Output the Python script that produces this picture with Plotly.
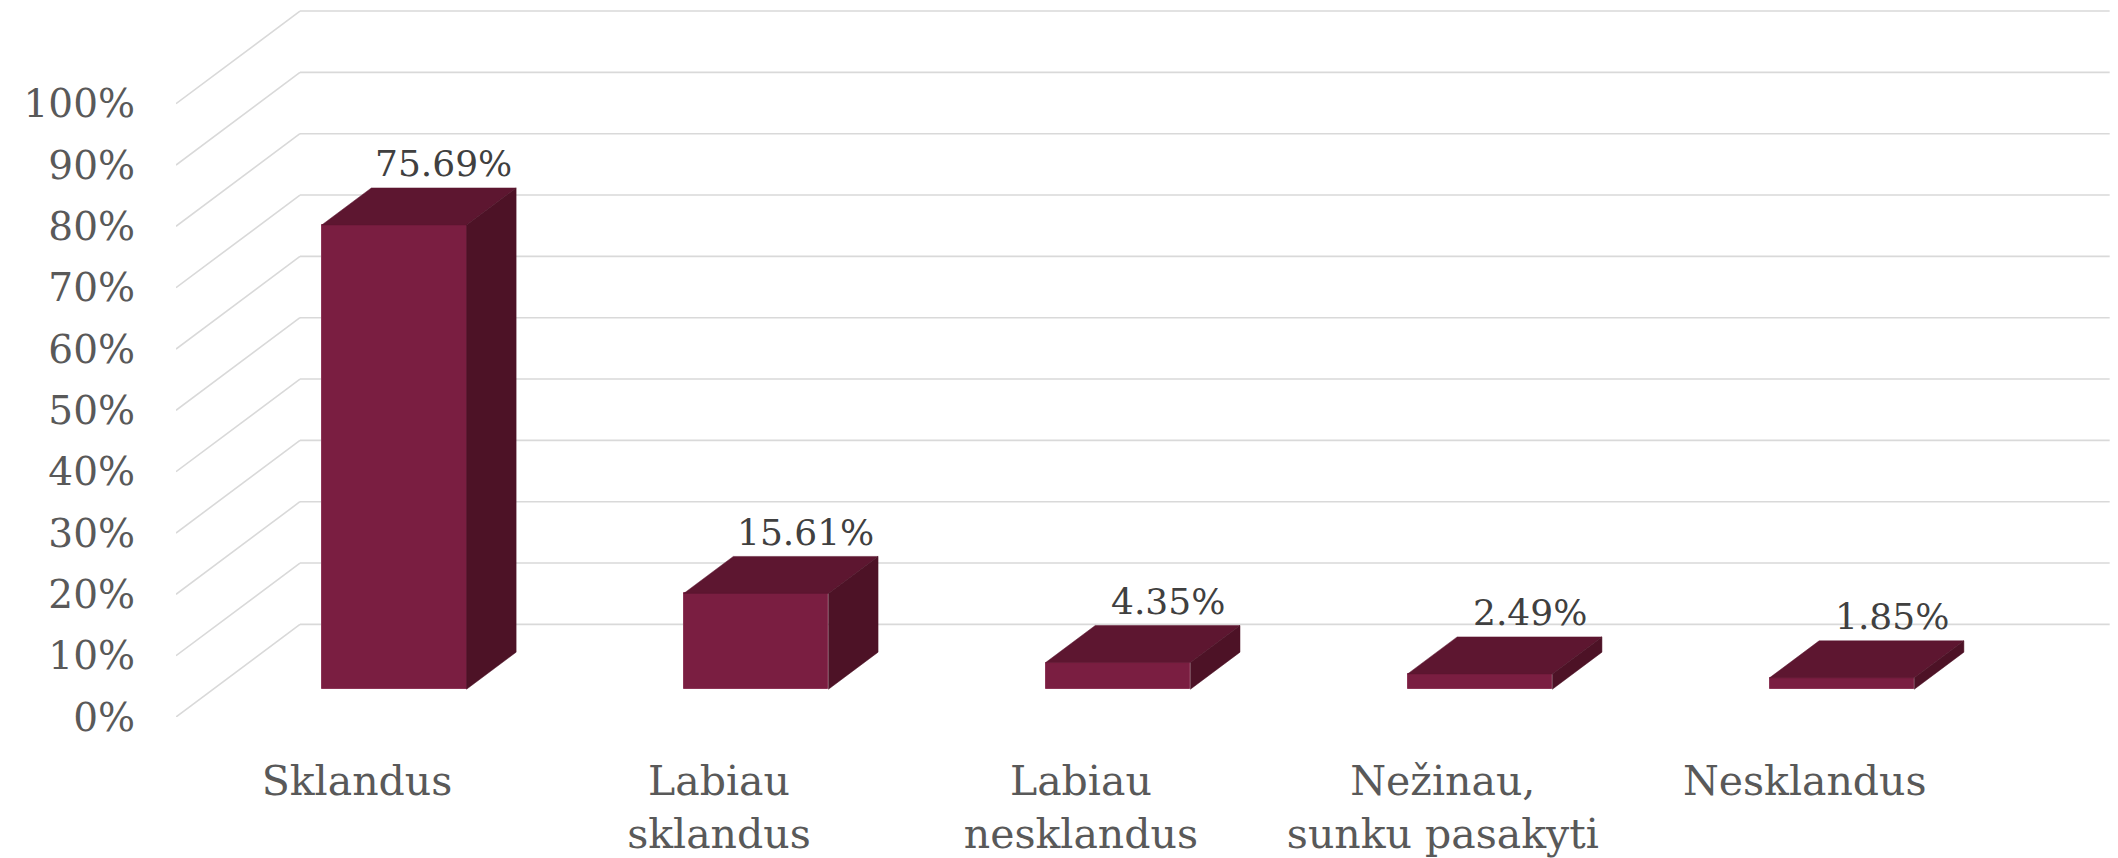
import plotly.graph_objects as go

# ---- data ----
categories = ["Sklandus", "Labiau<br>sklandus", "Labiau<br>nesklandus", "Nežinau,<br>sunku pasakyti", "Nesklandus"]
values = [75.69, 15.61, 4.35, 2.49, 1.85]
value_labels = ["75.69%", "15.61%", "4.35%", "2.49%", "1.85%"]
y_ticks = [0, 10, 20, 30, 40, 50, 60, 70, 80, 90, 100]
y_tick_labels = ["0%", "10%", "20%", "30%", "40%", "50%", "60%", "70%", "80%", "90%", "100%"]

# ---- 3D projection settings (in axis units) ----
DX = 0.3425      # depth shift along x (category units)
DY = 15.1        # depth shift along y (percent units)
BAR_W = 0.4      # bar width (category units)
D0, D1 = 0.3, 0.7  # bar front / back depth fractions

FRONT = "#7A1E41"
TOP = "#5D1630"
SIDE = "#4D1226"
GRID = "#D9D9D9"

n = len(categories)
fig = go.Figure()

# gridlines: diagonal side wall + back wall (drawn below everything)
for v in y_ticks:
    fig.add_shape(type="line", xref="x", yref="y", x0=0, y0=v, x1=DX, y1=v + DY,
                  line=dict(color=GRID, width=1.6), layer="below")
    fig.add_shape(type="line", xref="x", yref="y", x0=DX, y0=v + DY, x1=n + DX, y1=v + DY,
                  line=dict(color=GRID, width=1.6), layer="below")

# front faces of the bars
fig.add_trace(go.Bar(
    x=[i + 0.5 + D0 * DX for i in range(n)],
    y=values,
    base=[D0 * DY] * n,
    width=BAR_W,
    marker=dict(color=FRONT, line=dict(color="#8C3556", width=1)),
    showlegend=False, hoverinfo="skip",
))

# top and side faces
for i, v in enumerate(values):
    xl = i + 0.5 - BAR_W / 2 + D0 * DX
    xr = i + 0.5 + BAR_W / 2 + D0 * DX
    yb = D0 * DY
    yt = D0 * DY + v
    ddx = (D1 - D0) * DX
    ddy = (D1 - D0) * DY
    fig.add_trace(go.Scatter(
        x=[xl, xr, xr + ddx, xl + ddx, xl],
        y=[yt, yt, yt + ddy, yt + ddy, yt],
        mode="lines", fill="toself", fillcolor=TOP, line=dict(color=TOP, width=0.5),
        hoverinfo="skip", showlegend=False))
    fig.add_trace(go.Scatter(
        x=[xr, xr + ddx, xr + ddx, xr, xr],
        y=[yb, yb + ddy, yt + ddy, yt, yb],
        mode="lines", fill="toself", fillcolor=SIDE, line=dict(color=SIDE, width=0.5),
        hoverinfo="skip", showlegend=False))
    # value label above the back-top edge
    fig.add_annotation(
        x=i + 0.5 + D1 * DX, y=v + D1 * DY, text=value_labels[i],
        showarrow=False, xanchor="center", yanchor="middle", yshift=24,
        font=dict(family="DejaVu Serif", size=36, color="#404040"))

fig.update_layout(
    width=2110, height=850,
    margin=dict(l=168, r=2, t=0, b=139),
    paper_bgcolor="white", plot_bgcolor="white",
    bargap=0,
    xaxis=dict(range=[0, 5.36], showgrid=False, zeroline=False, showline=False,
               tickmode="array", tickvals=[i + 0.5 for i in range(n)], ticktext=categories,
               ticks="", ticklabelstandoff=36, tickangle=0,
               tickfont=dict(family="DejaVu Serif", size=41, color="#595959"),
               fixedrange=True),
    yaxis=dict(range=[0, 115.6], showgrid=False, zeroline=False, showline=False,
               tickmode="array", tickvals=y_ticks, ticktext=y_tick_labels,
               ticks="", ticklabelstandoff=40,
               tickfont=dict(family="DejaVu Serif", size=39, color="#595959"),
               fixedrange=True),
)

fig.write_html("out.html")
